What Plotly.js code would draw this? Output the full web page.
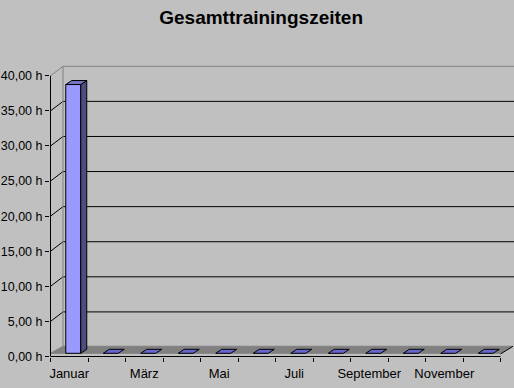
<!DOCTYPE html>
<html>
<head>
<meta charset="utf-8">
<script src="https://cdn.plot.ly/plotly-3.0.1.min.js"></script>
<style>html,body{margin:0;padding:0;background:#c0c0c0;}#chart{width:514px;height:388px;}</style>
</head>
<body>
<div id="chart"></div>
<script>
// ---- data ----
const months = ["Januar","Februar","März","April","Mai","Juni","Juli","August","September","Oktober","November","Dezember"];
const hours = [38.3, 0, 0, 0, 0, 0, 0, 0, 0, 0, 0, 0];
const gridValues = [5, 10, 15, 20, 25, 30, 35, 40];
const labelIndex = [0, 2, 4, 6, 8, 10];

// ---- geometry (pixel layout of the pseudo-3D chart) ----
const W = 514, H = 388;
const M = {l: 50, r: 0, t: 50, b: 31};
const pxX = 37.5;          // px per category
const pxY = 7.0175;        // px per hour
const x0px = 50.5 - M.l;   // position of category boundary -0.5 inside plot
const y0px = 356.5;        // pixel row of value 0
const xMin = -0.5 - x0px / pxX;
const xMax = xMin + (W - M.l - M.r) / pxX;
const yMin = -((H - M.b) - y0px) / pxY;
const yMax = (y0px - M.t) / pxY;
const DX = 12.5 / pxX, DY = 9.5 / pxY;     // wall depth
const BX = 6 / pxX, BY = 4 / pxY;          // bar depth
const base = 3.2 / pxY;                    // bar/floor front edge
const bL = -3.5 / pxX, bR = 11.5 / pxX;    // bar front face offsets
const n = months.length;
const left = -0.5, right = n - 0.5;

const traces = [];
function poly(xs, ys, fill, lc) {
  traces.push({type: 'scatter', mode: 'lines', x: xs.concat([xs[0]]), y: ys.concat([ys[0]]),
    fill: 'toself', fillcolor: fill, line: {color: lc, width: 1}, hoverinfo: 'skip', showlegend: false});
}
function lines(segs, color) {
  const xs = [], ys = [];
  segs.forEach(s => { xs.push(s[0], s[2], null); ys.push(s[1], s[3], null); });
  traces.push({type: 'scatter', mode: 'lines', x: xs, y: ys, line: {color: color, width: 1},
    hoverinfo: 'skip', showlegend: false});
}

// back wall gridlines and side-wall diagonals
const blackSegs = [], greySegs = [];
gridValues.forEach(v => {
  const arr = v === gridValues[gridValues.length - 1] ? greySegs : blackSegs;
  arr.push([left + DX, v + DY, right + DX + 1, v + DY]);
  arr.push([left, v, left + DX, v + DY]);
});
greySegs.push([left + DX, DY, left + DX, gridValues[gridValues.length - 1] + DY]);
lines(blackSegs, '#000000');
lines(greySegs, '#808080');

// floor
poly([left, right, right + DX, left + DX], [base, base, base + DY - 0.35, base + DY - 0.35], '#808080', '#808080');
lines([[right, base - 0.1, right + DX, base + DY - 0.35]], '#000000');

// axes lines
lines([[left, 0, left, gridValues[gridValues.length - 1]], [left, 0, right, 0]], '#000000');

// bars
hours.forEach((v, i) => {
  const fl = i + bL, fr = i + bR, top = base + v;
  if (v > 0) {
    poly([fl, fr, fr, fl], [base, base, top, top], '#9999ff', '#000000');
    poly([fr, fr + BX, fr + BX, fr], [base, base + BY, top + BY, top], '#4d4d80', '#000000');
  }
  poly([fl, fr, fr + BX, fl + BX], [top, top, top + BY, top + BY], v > 0 ? '#7373bf' : '#6666cc', '#000000');
});

const layout = {
  width: W, height: H,
  margin: M,
  paper_bgcolor: '#c0c0c0', plot_bgcolor: '#c0c0c0',
  separators: ',.',
  hovermode: false,
  showlegend: false,
  font: {family: 'Liberation Sans, Arial, sans-serif', size: 13, color: '#000000'},
  title: {text: 'Gesamttrainingszeiten', font: {family: 'Liberation Sans, Arial, sans-serif', size: 19, weight: 'bold', color: '#000000'},
    xref: 'container', x: 0.508, yref: 'container', y: 1 - 17 / H, yanchor: 'middle', xanchor: 'center'},
  xaxis: {range: [xMin, xMax], showgrid: false, zeroline: false, showline: false,
    tickmode: 'array', tickvals: labelIndex, ticktext: labelIndex.map(i => months[i]), ticks: '',
    ticklabelstandoff: 7,
    minor: {tickmode: 'linear', tick0: 0.5, dtick: 1, ticks: 'outside', ticklen: 4, tickcolor: '#000000', tickwidth: 1, showgrid: false},
    tickfont: {size: 13}, fixedrange: true},
  yaxis: {range: [yMin, yMax], showgrid: false, zeroline: false, showline: false,
    tickmode: 'linear', tick0: 0, dtick: 5, ticks: 'outside', ticklen: 4, tickcolor: '#000000',
    tickformat: '.2f', ticksuffix: ' h', tickfont: {size: 12.5}, fixedrange: true}
};

Plotly.newPlot('chart', traces, layout, {staticPlot: true, displayModeBar: false});
</script>
</body>
</html>
